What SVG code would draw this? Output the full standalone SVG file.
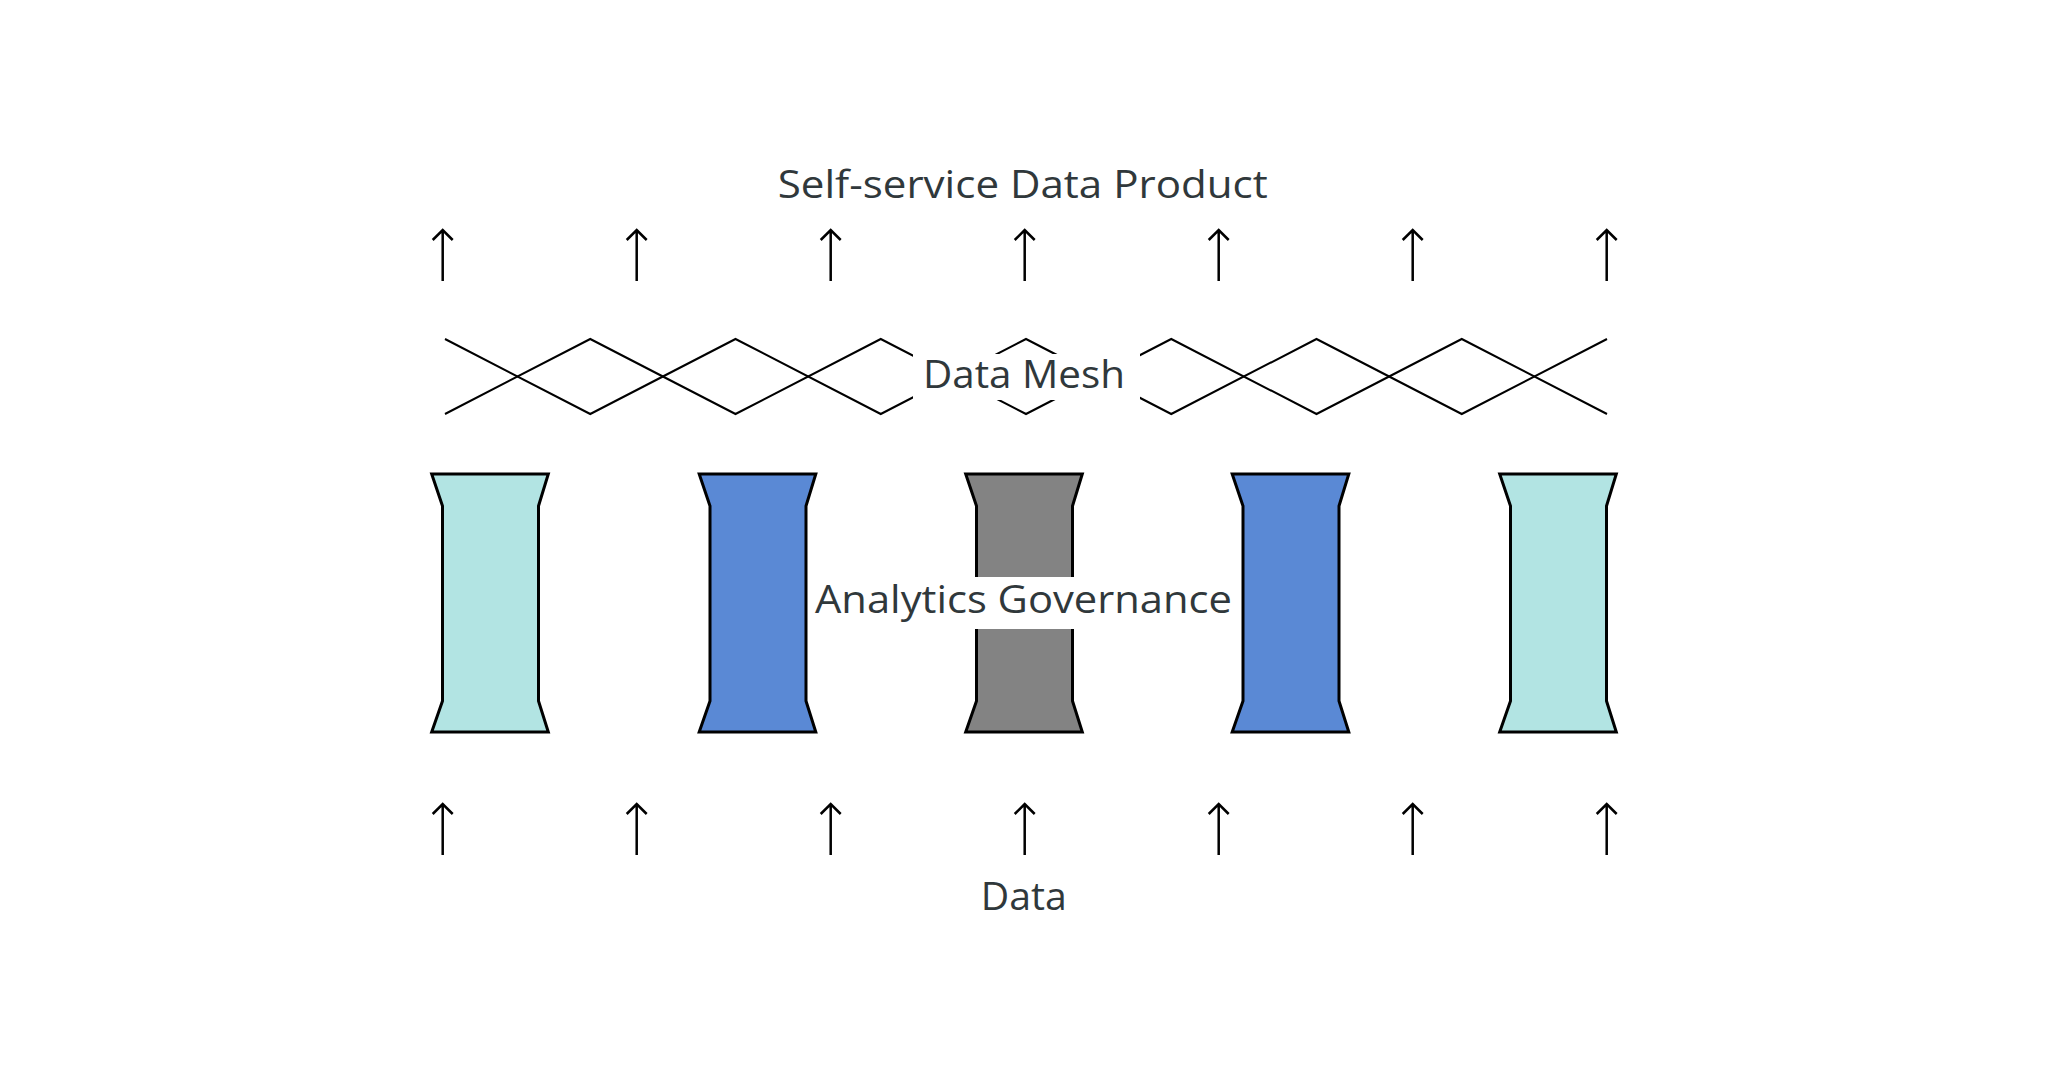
<svg xmlns="http://www.w3.org/2000/svg" width="2048" height="1072" viewBox="0 0 2048 1072">
<defs>
<style>
.lbl{font-family:"Open Sans","Liberation Sans",sans-serif;font-size:38px;fill:#30383b;text-anchor:middle}
.col{stroke:#000;stroke-width:3;stroke-linejoin:miter}
.cyan{fill:#b2e4e3}
.blue{fill:#5a89d5}
.gray{fill:#838383}
.arr{stroke:#000;stroke-width:2.5;fill:none}
.mesh{stroke:#000;stroke-width:2;fill:none;stroke-linejoin:miter}
</style>
<g id="arrowShape"><path d="M0,0 V-51 M-10,-41 L0,-51 L10,-41"/></g>
</defs>
<rect width="2048" height="1072" fill="#fff"/>

<g id="mesh">
<polyline class="mesh" points="445,339 590.25,414 735.5,339 880.75,414 1026,339 1171.25,414 1316.5,339 1461.75,414 1607,339"/>
<polyline class="mesh" points="445,414 590.25,339 735.5,414 880.75,339 1026,414 1171.25,339 1316.5,414 1461.75,339 1607,414"/>
</g>

<g id="col1"><polygon class="col cyan" points="431.7,474 548.3,474 538.5,506 538.5,701 548.3,732 431.7,732 442.5,701 442.5,506"/></g>
<g id="col2"><polygon class="col blue" points="699.2,474 815.8,474 806,506 806,701 815.8,732 699.2,732 710,701 710,506"/></g>
<g id="col3"><polygon class="col gray" points="965.7,474 1082.3,474 1072.5,506 1072.5,701 1082.3,732 965.7,732 976.5,701 976.5,506"/></g>
<g id="col4"><polygon class="col blue" points="1232.2,474 1348.8,474 1339,506 1339,701 1348.8,732 1232.2,732 1243,701 1243,506"/></g>
<g id="col5"><polygon class="col cyan" points="1499.7,474 1616.3,474 1606.5,506 1606.5,701 1616.3,732 1499.7,732 1510.5,701 1510.5,506"/></g>

<g id="connectors" class="arr">
<use href="#arrowShape" x="442.7" y="281"/>
<use href="#arrowShape" x="636.7" y="281"/>
<use href="#arrowShape" x="830.7" y="281"/>
<use href="#arrowShape" x="1024.7" y="281"/>
<use href="#arrowShape" x="1218.7" y="281"/>
<use href="#arrowShape" x="1412.7" y="281"/>
<use href="#arrowShape" x="1606.7" y="281"/>
<use href="#arrowShape" x="442.7" y="855"/>
<use href="#arrowShape" x="636.7" y="855"/>
<use href="#arrowShape" x="830.7" y="855"/>
<use href="#arrowShape" x="1024.7" y="855"/>
<use href="#arrowShape" x="1218.7" y="855"/>
<use href="#arrowShape" x="1412.7" y="855"/>
<use href="#arrowShape" x="1606.7" y="855"/>
</g>

<g id="label-top"><text class="lbl" x="1022.7" y="198" textLength="490" lengthAdjust="spacingAndGlyphs">Self-service Data Product</text></g>
<g id="label-mesh">
<rect x="913" y="354" width="227" height="46" fill="#fff"/>
<text class="lbl" x="1024" y="388" textLength="202" lengthAdjust="spacingAndGlyphs">Data Mesh</text>
</g>
<g id="label-gov">
<rect x="812" y="577" width="425" height="52" fill="#fff"/>
<text class="lbl" x="1023.5" y="613" textLength="417" lengthAdjust="spacingAndGlyphs">Analytics Governance</text>
</g>
<g id="label-data"><text class="lbl" x="1023.7" y="910" textLength="86" lengthAdjust="spacingAndGlyphs">Data</text></g>
</svg>
